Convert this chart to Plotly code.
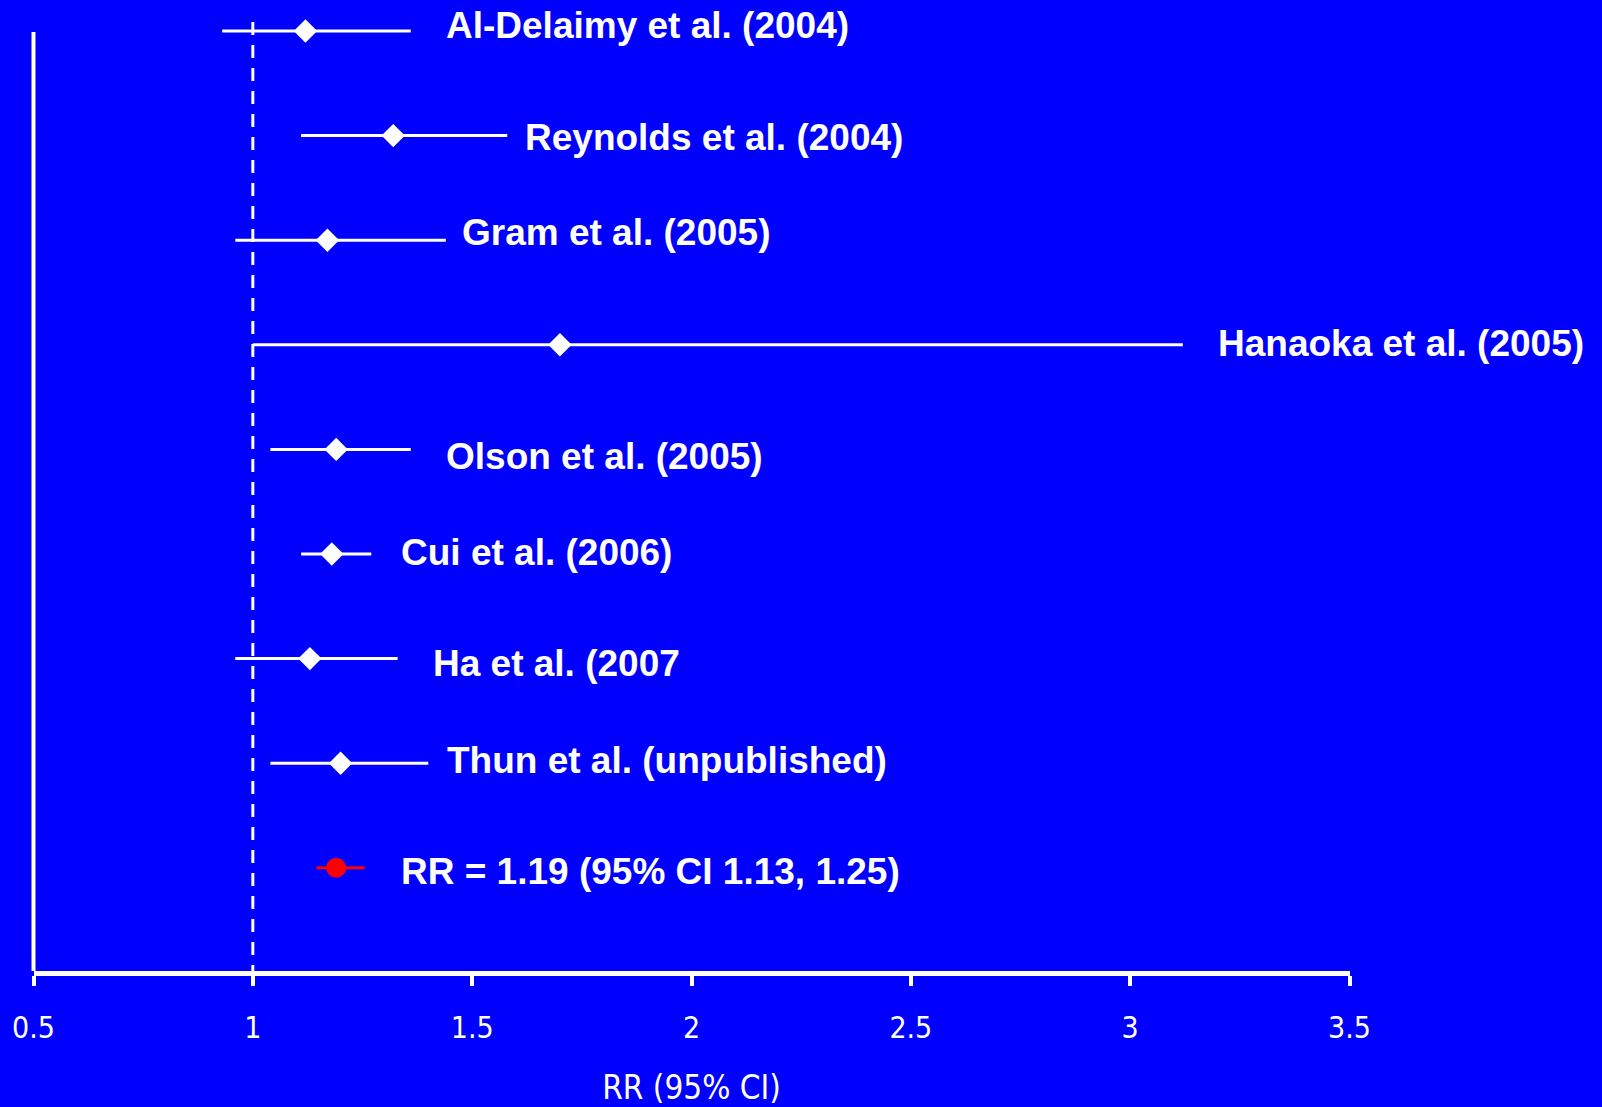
import plotly.graph_objects as go

# ---------------- data ----------------
studies = [
    "Al-Delaimy et al. (2004)",
    "Reynolds et al. (2004)",
    "Gram et al. (2005)",
    "Hanaoka et al. (2005)",
    "Olson et al. (2005)",
    "Cui et al. (2006)",
    "Ha et al. (2007",
    "Thun et al. (unpublished)",
]
rr = [1.12, 1.32, 1.17, 1.70, 1.19, 1.18, 1.13, 1.20]
rr_lower = [0.93, 1.11, 0.96, 1.00, 1.04, 1.11, 0.96, 1.04]
rr_upper = [1.36, 1.58, 1.44, 3.12, 1.36, 1.27, 1.33, 1.40]

pooled_label = "RR = 1.19 (95% CI 1.13, 1.25)"
pooled_rr = [1.19]
pooled_lower = [1.145]
pooled_upper = [1.255]

null_value = 1.0
tick_vals = [0.5, 1.0, 1.5, 2.0, 2.5, 3.0, 3.5]
tick_text = ["0.5", "1", "1.5", "2", "2.5", "3", "3.5"]
x_title = "RR (95% CI)"

# ---------------- layout helpers (style only) ----------------
W, H = 1602, 1107
BLUE = "#0000FF"
WHITE = "#FFFFFF"
RED = "#FF0000"
NARROW = "Liberation Sans Narrow, Arial Narrow, DejaVu Sans Condensed, sans-serif"
BOLD = "Liberation Sans, Arial, sans-serif"

n = len(studies)
rows = list(range(n))
pooled_row = [n]

row_top_px = 31.0
row_step_px = 104.6
plot_bottom_px = 971.0

label_dx = [34, 17, 15, 34, 34, 29, 34, 18, 35]
label_dy = [6, -2, 8, 1, -7, 2, -5, 3, -4]

fig = go.Figure()

# individual studies
fig.add_trace(go.Scatter(
    x=rr, y=rows, mode="markers",
    marker=dict(symbol="diamond", size=18, color=WHITE, line=dict(width=0)),
    error_x=dict(type="data", symmetric=False,
                 array=[u - m for u, m in zip(rr_upper, rr)],
                 arrayminus=[m - l for m, l in zip(rr, rr_lower)],
                 color=WHITE, thickness=3, width=0),
    hoverinfo="skip", showlegend=False, cliponaxis=False,
))

# pooled estimate
fig.add_trace(go.Scatter(
    x=pooled_rr, y=pooled_row, mode="markers",
    marker=dict(symbol="circle", size=20, color=RED, line=dict(width=0)),
    error_x=dict(type="data", symmetric=False,
                 array=[u - m for u, m in zip(pooled_upper, pooled_rr)],
                 arrayminus=[m - l for m, l in zip(pooled_rr, pooled_lower)],
                 color=RED, thickness=3, width=0),
    hoverinfo="skip", showlegend=False, cliponaxis=False,
))

# labels
all_labels = studies + [pooled_label]
all_upper = rr_upper + pooled_upper
all_rows = rows + pooled_row
for i, (lab, up, r) in enumerate(zip(all_labels, all_upper, all_rows)):
    fig.add_annotation(
        x=up, y=r, xref="x", yref="y", text=lab, showarrow=False,
        xanchor="left", yanchor="middle", xshift=label_dx[i], yshift=label_dy[i],
        font=dict(family=BOLD, size=37, color=WHITE, weight="bold"),
        borderpad=0,
    )

# null reference line (dashed) and left axis line
fig.add_shape(type="line", xref="x", yref="y domain",
              x0=null_value, x1=null_value,
              y0=1 - 22 / plot_bottom_px, y1=0,
              line=dict(color=WHITE, width=3, dash="13px,10px"), layer="below")
fig.add_shape(type="line", xref="x domain", yref="y domain",
              x0=0, x1=0, y0=0, y1=1 - 32 / plot_bottom_px,
              line=dict(color=WHITE, width=4), layer="above")

y_top = -row_top_px / row_step_px
y_bot = y_top + plot_bottom_px / row_step_px

fig.update_layout(
    width=W, height=H,
    margin=dict(l=0, r=0, t=0, b=0, autoexpand=False),
    paper_bgcolor=BLUE, plot_bgcolor=BLUE,
    showlegend=False,
    xaxis=dict(
        domain=[33.5 / W, 1349.5 / W], range=[0.5, 3.5],
        automargin=False,
        showgrid=False, zeroline=False,
        showline=True, linecolor=WHITE, linewidth=5,
        ticks="outside", ticklen=10, tickwidth=4, tickcolor=WHITE,
        tickvals=tick_vals, ticktext=tick_text,
        tickfont=dict(family=NARROW, size=30, color=WHITE),
        ticklabelstandoff=16,
        title=dict(text=x_title,
                   font=dict(family=NARROW, size=33, color=WHITE),
                   standoff=34),
    ),
    yaxis=dict(
        domain=[1 - plot_bottom_px / H, 1], range=[y_bot, y_top],
        automargin=False,
        showgrid=False, zeroline=False, showline=False,
        showticklabels=False, ticks="",
    ),
)

fig.write_html("out.html")
